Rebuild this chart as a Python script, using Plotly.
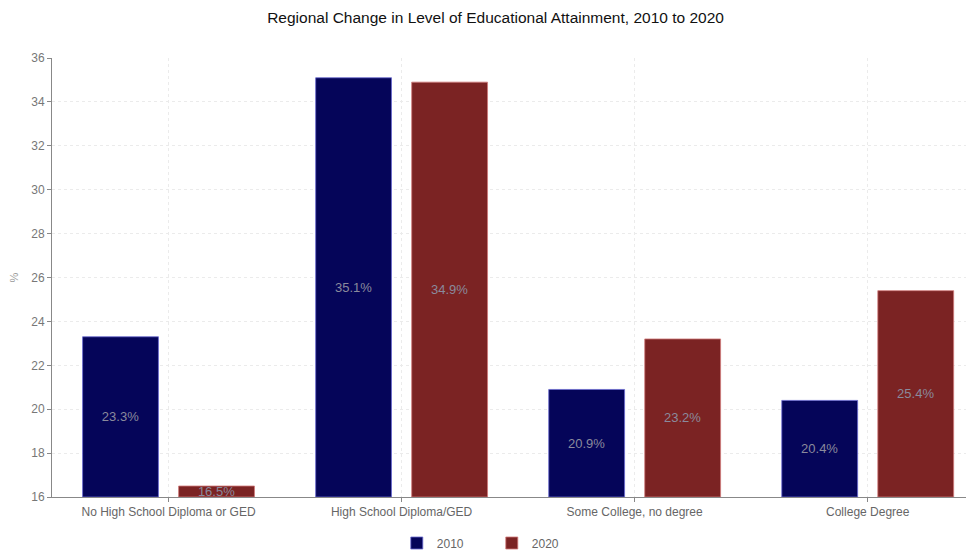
import plotly.graph_objects as go

categories = ["No High School Diploma or GED", "High School Diploma/GED",
              "Some College, no degree", "College Degree"]
values_2010 = [23.3, 35.1, 20.9, 20.4]
values_2020 = [16.5, 34.9, 23.2, 25.4]
y_ticks = [16, 18, 20, 22, 24, 26, 28, 30, 32, 34, 36]
y_floor = 16

font_family = "Liberation Sans, Arial, Helvetica, sans-serif"

fig = go.Figure()
for name, vals, color, lc in [("2010", values_2010, "#050559", "#6a6ad0"),
                              ("2020", values_2020, "#7b2323", "#d07a7a")]:
    fig.add_trace(go.Bar(
        name=name, x=categories, y=[v - y_floor for v in vals], base=y_floor,
        marker=dict(color=color, line=dict(color=lc, width=0.8)),
        text=[f"{v}%" for v in vals],
        textposition="inside", insidetextanchor="middle",
        constraintext="none",
        textfont=dict(color="#8a8a9c", size=13, family=font_family),
        customdata=vals, hovertemplate="%{x}: %{customdata}%<extra>" + name + "</extra>",
    ))

fig.update_layout(
    width=966, height=544,
    margin=dict(l=44, r=0, t=50, b=55, autoexpand=False),
    paper_bgcolor="white", plot_bgcolor="white",
    barmode="group", bargap=0.176, bargroupgap=0.21,
    font=dict(family=font_family, color="#666666", size=12),
    title=dict(text="Regional Change in Level of Educational Attainment, 2010 to 2020",
               x=0.5047, xanchor="center", y=0.982, yanchor="middle",
               font=dict(size=15.5, color="#111111", family=font_family)),
    xaxis=dict(range=[-0.5, 3.456], showline=True, linecolor="#888888", linewidth=1,
               ticks="outside", ticklen=4, tickcolor="#888888", automargin=False,
               showgrid=True, gridcolor="#ebebeb", griddash="dot", gridwidth=1,
               tickfont=dict(size=12, color="#666666")),
    yaxis=dict(range=[16, 36], tickvals=y_ticks, showline=True, linecolor="#888888",
               linewidth=1, ticks="outside", ticklen=4, tickcolor="#888888",
               showgrid=True, gridcolor="#ebebeb", griddash="dot", gridwidth=1,
               zeroline=False, tickfont=dict(size=12, color="#777777"), automargin=False,
               title=dict(text="%", standoff=11, font=dict(size=11, color="#999999"))),
    legend=dict(orientation="h", x=0.477, xanchor="center", y=-0.1048, yanchor="middle",
                font=dict(size=12, color="#666666"), entrywidth=50,
                itemwidth=30, tracegroupgap=0),
)

fig.write_html("out.html")
